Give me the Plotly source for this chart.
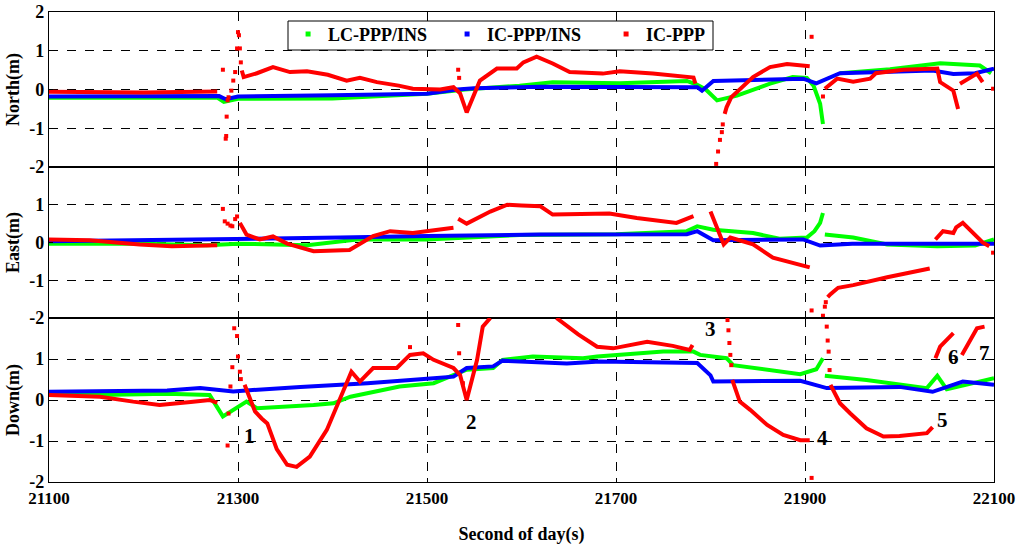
import plotly.graph_objects as go
from plotly.subplots import make_subplots

N = None
# ---------------- North ----------------
north_lc_t = [21100, 21200, 21278, 21285, 21292, 21300, 21400, 21450, 21500, 21540, 21598, 21633, 21704,
              21775, 21786, 21795, 21801, 21807, 21828, 21863, 21887, 21902, 21909, 21916, 21919, N,
              21937, 21990, 22043, 22085, 22097]
north_lc_v = [-0.21, -0.21, -0.21, -0.32, -0.28, -0.24, -0.23, -0.18, -0.11, 0.0, 0.1, 0.19, 0.16,
              0.22, 0.12, 0.0, -0.15, -0.28, -0.16, 0.15, 0.32, 0.3, 0.1, -0.37, -0.89, N,
              0.42, 0.52, 0.68, 0.62, 0.42]
north_ic_t = [21100, 21280, 21287, 21300, 21400, 21500, 21532, 21550, 21620, 21786, 21791, 21803, 21898,
              21912, 21937, 22035, 22057, 22080, 22100]
north_ic_v = [-0.18, -0.17, -0.25, -0.18, -0.15, -0.11, 0.0, 0.03, 0.07, 0.06, -0.03, 0.22, 0.28,
              0.16, 0.42, 0.49, 0.4, 0.42, 0.54]
north_ppp_t = [21100, 21200, 21278, N,
               21304, 21306, 21320, 21337, 21355, 21373, 21395, 21415, 21429, 21447, 21470, 21485, 21514,
               21528, 21535, 21542, 21556, 21574, 21595, 21602, 21616, 21633, 21651, 21686, 21704, 21739,
               21782, 21784, N,
               21815, 21817, 21822, 21828, 21845, 21863, 21881, 21905, N,
               21921, 21934, 21951, 21969, 21975, 22004, 22040, 22043, 22057, 22062, N,
               22064, 22082, 22088]
north_ppp_v = [-0.06, -0.08, -0.05, N,
               0.49, 0.32, 0.42, 0.58, 0.45, 0.47, 0.38, 0.23, 0.3, 0.19, 0.1, 0.02, 0.0,
               0.06, -0.1, -0.59, 0.23, 0.54, 0.54, 0.7, 0.85, 0.67, 0.45, 0.41, 0.47, 0.41,
               0.31, 0.15, N,
               -0.63, -0.46, -0.2, -0.07, 0.32, 0.58, 0.66, 0.6, N,
               0.02, 0.28, 0.2, 0.28, 0.42, 0.51, 0.54, 0.19, -0.03, -0.5, N,
               0.15, 0.41, 0.19]
north_dot_t = [21284, 21287, 21287.5, 21288, 21289, 21290, 21293, 21295, 21297, 21299, 21300, 21301, 21302,
               21303, 21533, 21534, 21806, 21808, 21810, 21812, 21813, 21907, 21919, 22099]
north_dot_v = [0.51, -1.27, -1.2, -0.7, -0.28, -0.2, -0.03, 0.23, 0.45, 1.06, 1.48, 1.4, 1.06,
               0.7, 0.51, 0.3, -1.92, -1.6, -1.3, -1.1, -0.9, 1.36, -0.18, 0.02]

# ---------------- East ----------------
east_lc_t = [21100, 21200, 21267, 21300, 21373, 21426, 21500, 21598, 21700, 21775, 21786, 21803, 21845,
             21873, 21902, 21910, 21916, 21919, N, 21921, 21951, 21987, 22040, 22080, 22100]
east_lc_v = [-0.03, -0.03, -0.07, -0.03, -0.07, 0.08, 0.08, 0.2, 0.22, 0.3, 0.43, 0.34, 0.25,
             0.1, 0.13, 0.3, 0.52, 0.78, N, 0.21, 0.13, -0.05, -0.1, -0.08, 0.08]
east_ic_t = [21100, 21300, 21408, 21500, 21620, 21775, 21786, 21803, 21898, 21916, 21950, 22100]
east_ic_v = [0.03, 0.08, 0.13, 0.17, 0.21, 0.22, 0.3, 0.06, 0.08, -0.08, -0.03, -0.03]
east_ppp_t = [21100, 21143, 21196, 21230, 21278, N,
              21302, 21309, 21323, 21337, 21352, 21380, 21418, 21443, 21461, 21485, 21528, N,
              21533, 21542, 21567, 21585, 21600, 21620, 21633, 21693, 21722, 21764, 21782, N,
              21800, 21814, 21821, 21845, 21866, 21905, N,
              21924, 21927, 21935, 21951, 21987, 22032, N,
              22038, 22046, 22057, 22060, 22067, 22088, 22095]
east_ppp_v = [0.08, 0.06, -0.05, -0.1, -0.07, N,
              0.52, 0.21, 0.08, 0.16, -0.03, -0.23, -0.2, 0.17, 0.3, 0.25, 0.39, N,
              0.63, 0.5, 0.82, 1.0, 0.98, 0.96, 0.74, 0.77, 0.65, 0.52, 0.7, N,
              0.82, -0.05, 0.13, -0.05, -0.4, -0.66, N,
              -1.45, -1.37, -1.2, -1.13, -0.92, -0.69, N,
              0.08, 0.3, 0.25, 0.4, 0.52, 0.0, -0.1]
east_dot_t = [21284, 21286, 21289, 21292, 21294, 21297, 21299, 21907, 21919, 21921, 21922, 22099]
east_dot_v = [0.89, 0.56, 0.5, 0.45, 0.43, 0.62, 0.69, -1.8, -1.94, -1.7, -1.58, -0.27]

# ---------------- Down ----------------
down_lc_t = [21100, 21154, 21225, 21270, 21284, 21295, 21309, 21320, 21358, 21380, 21401, 21419, 21471,
             21507, 21542, 21570, 21580, 21612, 21665, 21680, 21750, 21782, 21789, 21817, 21824, 21895,
             21912, 21919, N, 21921, 21965, 22029, 22040, 22050, 22070, 22100]
down_lc_v = [0.12, 0.12, 0.15, 0.12, -0.4, -0.24, -0.04, -0.2, -0.16, -0.12, -0.08, 0.08, 0.33,
             0.41, 0.74, 0.78, 0.98, 1.06, 1.02, 1.06, 1.18, 1.18, 1.1, 1.02, 0.85, 0.63,
             0.75, 1.02, N, 0.59, 0.49, 0.29, 0.59, 0.26, 0.37, 0.53]
down_ic_t = [21100, 21225, 21260, 21295, 21366, 21419, 21437, 21507, 21528, 21542, 21570, 21580, 21648,
             21683, 21786, 21800, 21803, 21895, 21923, 22000, 22035, 22067, 22100]
down_ic_v = [0.2, 0.23, 0.29, 0.21, 0.32, 0.37, 0.41, 0.53, 0.57, 0.78, 0.82, 0.96, 0.89,
             0.94, 0.9, 0.6, 0.45, 0.47, 0.29, 0.32, 0.2, 0.45, 0.37]
down_ppp_t = [21100, 21154, 21189, 21217, 21250, 21270, 21278, N,
              21307, 21318, 21325, 21331, 21341, 21352, 21362, 21376, 21394, 21411, 21420, 21429, 21443,
              21458, 21468, 21482, 21496, 21507, 21528, 21535, 21542, 21553, 21559, 21567, N,
              21637, 21660, 21680, 21697, 21733, 21760, 21778, 21781, N,
              21823, 21831, 21842, 21860, 21877, 21895, 21905, N,
              21927, 21937, 21948, 21965, 21983, 22000, 22029, 22035, N,
              22038, 22043, 22057, N,
              22066, 22071, 22077, 22082, 22090]
down_ppp_v = [0.12, 0.08, -0.04, -0.12, -0.05, 0.0, -0.07, N,
              0.37, -0.28, -0.45, -0.57, -1.2, -1.58, -1.63, -1.38, -0.73, 0.24, 0.69, 0.45, 0.78,
              0.78, 0.78, 1.1, 1.14, 0.98, 0.78, 0.61, 0.0, 0.98, 1.79, 2.0, N,
              2.0, 1.6, 1.3, 1.26, 1.42, 1.32, 1.22, 1.34, N,
              0.49, -0.04, -0.24, -0.61, -0.85, -0.98, -0.98, N,
              0.37, -0.08, -0.33, -0.69, -0.89, -0.88, -0.81, -0.66, N,
              1.02, 1.3, 1.63, N,
              1.1, 1.3, 1.54, 1.75, 1.79]
down_dot_t = [21289, 21290, 21292, 21294, 21296, 21299, 21300, 21302, 21303, 21482, 21533, 21534, 21538,
              21818, 21819, 21820, 21821, 21822, 21907, 21923, 21924, 21925, 21926]
down_dot_v = [-1.11, -0.33, 0.33, 0.8, 1.75, 1.56, 1.06, 0.69, 0.51, 1.29, 1.83, 1.14, 0.41,
              1.95, 1.7, 1.39, 1.1, 0.85, -1.9, 1.79, 1.45, 1.18, 0.73]

event_labels = ["1", "2", "3", "4", "5", "6", "7"]
event_t = [21312, 21547, 21800, 21919, 22046, 22057, 22090]
event_v = [-0.88, -0.54, 1.72, -0.93, -0.49, 1.05, 1.15]

series_names = ["LC-PPP/INS", "IC-PPP/INS", "IC-PPP"]
series_colors = ["#00FF00", "#0000FF", "#FF0000"]
panel_titles = ["North(m)", "East(m)", "Down(m)"]
x_ticks = [21100, 21300, 21500, 21700, 21900, 22100]

FONT = "Liberation Serif"

fig = make_subplots(rows=3, cols=1, shared_xaxes=True, vertical_spacing=0,
                    row_heights=[155, 151, 164])

panels = [
    (north_lc_t, north_lc_v, north_ic_t, north_ic_v, north_ppp_t, north_ppp_v, north_dot_t, north_dot_v),
    (east_lc_t, east_lc_v, east_ic_t, east_ic_v, east_ppp_t, east_ppp_v, east_dot_t, east_dot_v),
    (down_lc_t, down_lc_v, down_ic_t, down_ic_v, down_ppp_t, down_ppp_v, down_dot_t, down_dot_v),
]
for r, p in enumerate(panels, start=1):
    lt, lv, it, iv, pt, pv, dt, dv = p
    for (tt, vv), c in zip([(lt, lv), (it, iv), (pt, pv)], series_colors):
        fig.add_trace(go.Scatter(x=tt, y=vv, mode="lines", line=dict(color=c, width=4),
                                 showlegend=False, hoverinfo="skip"), row=r, col=1)
    fig.add_trace(go.Scatter(x=dt, y=dv, mode="markers",
                             marker=dict(color=series_colors[2], size=4, symbol="square"),
                             showlegend=False, hoverinfo="skip", cliponaxis=True), row=r, col=1)

for name, c in zip(series_names, series_colors):
    fig.add_trace(go.Scatter(x=[None], y=[None], mode="markers", name="<b>%s</b>" % name,
                             marker=dict(color=c, size=5, symbol="square")), row=1, col=1)

for lab, tt, vv in zip(event_labels, event_t, event_v):
    fig.add_annotation(x=tt, y=vv, text="<b>%s</b>" % lab, showarrow=False, xref="x3", yref="y3",
                       font=dict(family=FONT, size=21, color="black"))

axis_font = dict(family=FONT, size=18, color="black")
for r in range(1, 4):
    tv = [-2, -1, 0, 1, 2] if r == 1 else [-2, -1, 0, 1]
    fig.update_yaxes(row=r, col=1, range=[-2, 2], tickvals=tv,
                     ticktext=["<b>%d</b>" % v for v in tv],
                     showline=True, linecolor="black", linewidth=1.2, mirror=True,
                     ticks="inside", ticklen=4, tickcolor="black",
                     showgrid=True, gridcolor="black", griddash="dash", gridwidth=1,
                     zeroline=False, tickfont=dict(family=FONT, size=18, color="black"),
                     title=dict(text="<b>%s</b>" % panel_titles[r - 1], font=axis_font, standoff=4))
    fig.update_xaxes(row=r, col=1, range=[21100, 22100], tickvals=x_ticks,
                     ticktext=["<b>%d</b>" % v for v in x_ticks],
                     showline=True, linecolor="black", linewidth=1.2, mirror=True,
                     ticks="inside", ticklen=4, tickcolor="black",
                     showgrid=True, gridcolor="black", griddash="dash", gridwidth=1,
                     zeroline=False, tickfont=dict(family=FONT, size=17, color="black"))
fig.update_xaxes(row=3, col=1, title=dict(text="<b>Second of day(s)</b>", font=axis_font, standoff=20))

# legend frame (drawn as a shape so its width matches the reference)
fig.add_shape(type="rect", xref="paper", yref="paper",
              x0=(288 - 49) / 945, x1=(713 - 49) / 945,
              y0=1 - (50 - 12) / 470, y1=1 - (21 - 12) / 470,
              line=dict(color="black", width=1), fillcolor="white", layer="above")

fig.update_layout(
    width=1024, height=549,
    margin=dict(l=49, r=30, t=12, b=67, autoexpand=False),
    paper_bgcolor="white", plot_bgcolor="white",
    font=dict(family=FONT, color="black"),
    legend=dict(orientation="h", x=0.253, y=0.992, xanchor="left", yanchor="top",
                bgcolor="rgba(0,0,0,0)", borderwidth=0,
                font=dict(family=FONT, size=18, color="black"),
                entrywidth=114, itemwidth=30, tracegroupgap=0),
)

fig.write_html("out.html", post_script="document.body.style.margin='0px';",
               config={"displayModeBar": False})
